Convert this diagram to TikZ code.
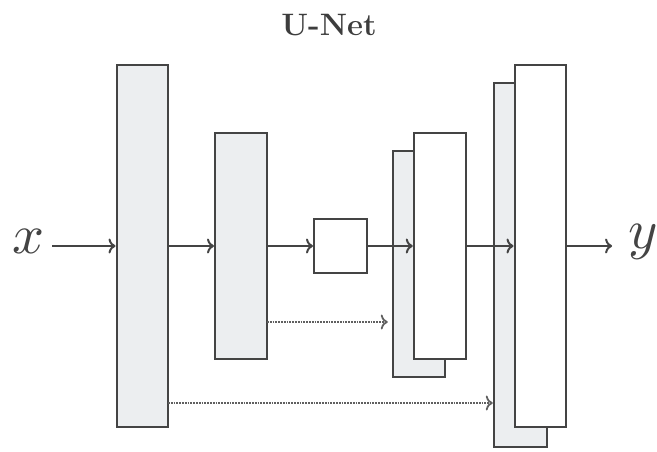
\documentclass[tikz,border=0pt]{standalone}
\usepackage{graphicx}
\usetikzlibrary{arrows.meta}
\definecolor{edge}{HTML}{444444}
\definecolor{boxfill}{HTML}{ECEEF0}
\begin{document}
\begin{tikzpicture}[x=1pt,y=-1pt,
  blk/.style={draw=edge,line width=2pt,rectangle,inner sep=0pt},
  grayblk/.style={blk,fill=boxfill},
  whiteblk/.style={blk,fill=white},
  flow/.style={draw=edge,line width=2pt,-{To[length=7pt,width=15pt]}},
  skip/.style={draw=edge!85,line width=1.8pt,densely dotted,-{To[length=7pt,width=15pt]}},
  lbl/.style={inner sep=0pt,text=edge}]
\useasboundingbox (0,0) rectangle (657,452);
\node[lbl,text=edge!90!black,font=\fontsize{31}{36}\selectfont\bfseries] (title) at (329,25) {U-Net};
\node[lbl] (x) at (29,241.5) {\scalebox{5.6}{$x$}};
\node[lbl] (y) at (643,241.5) {\scalebox{5.6}{$y$}};
\node[grayblk,minimum width=51pt,minimum height=362pt] (b1) at (142,246) {};
\node[grayblk,minimum width=52pt,minimum height=226pt] (b2) at (241,246) {};
\node[whiteblk,minimum width=53pt,minimum height=54pt] (b3) at (340.5,246) {};
\node[grayblk,minimum width=52pt,minimum height=226pt] (b4b) at (418.75,264) {};
\node[whiteblk,minimum width=52pt,minimum height=226pt] (b4f) at (439.75,246) {};
\node[grayblk,minimum width=53pt,minimum height=364pt] (b5b) at (520.25,265) {};
\node[whiteblk,minimum width=51pt,minimum height=362pt] (b5f) at (540,246) {};
\coordinate (xin) at (x.east |- b1.west);
\coordinate (yout) at (y.west |- b5f.east);
\draw[flow,shorten <=7pt] (xin) -- (b1.west);
\draw[flow] (b1.east) -- (b2.west);
\draw[flow] (b2.east) -- (b3.west);
\draw[flow] (b3.east) -- (b4f.west);
\draw[flow] (b4f.east) -- (b5f.west);
\draw[flow,shorten >=16pt] (b5f.east) -- (yout);
\coordinate (s1) at (267,322);
\coordinate (s2) at (168,403);
\draw[skip,shorten >=4pt] (s1) -- (s1 -| b4b.west);
\draw[skip] (s2) -- (s2 -| b5b.west);
\end{tikzpicture}
\end{document}
